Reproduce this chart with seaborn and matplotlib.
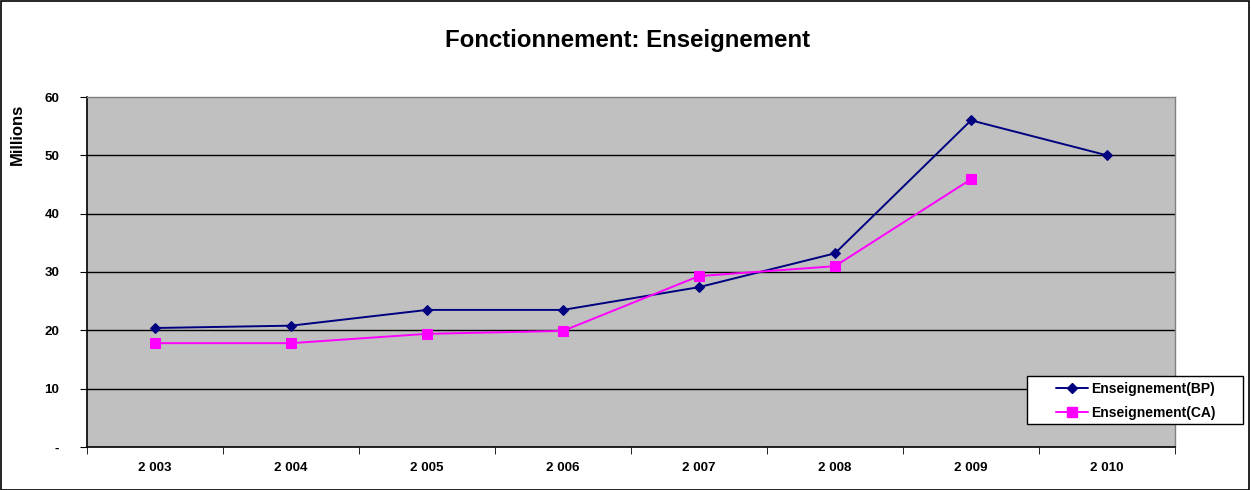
import pandas as pd
import numpy as np
import matplotlib
matplotlib.use("Agg")
import matplotlib.pyplot as plt
import seaborn as sns
from matplotlib.lines import Line2D
from matplotlib.patches import Rectangle

# values (millions)
years = ["2 003", "2 004", "2 005", "2 006", "2 007", "2 008", "2 009", "2 010"]
bp = [20.4, 20.8, 23.5, 23.5, 27.4, 33.2, 56.0, 50.0]
ca = [17.8, 17.8, 19.4, 19.9, 29.3, 31.0, 45.9, np.nan]
y_ticks = [0, 10, 20, 30, 40, 50, 60]
y_labels = ["-", "10", "20", "30", "40", "50", "60"]

df = pd.DataFrame({"pos": range(len(years)), "BP": bp, "CA": ca})

sns.set_style("white")
plt.rcParams["font.family"] = ["Liberation Sans", "DejaVu Sans"]
plt.rcParams["font.weight"] = "bold"
plt.rcParams["text.color"] = "black"
plt.rcParams["xtick.color"] = "black"
plt.rcParams["ytick.color"] = "black"
plt.rcParams["axes.labelcolor"] = "black"

W, H = 1251, 490
fig = plt.figure(figsize=(12.51, 4.9), dpi=100)
ax = fig.add_axes([87 / W, 43 / H, 1088 / W, 350 / H])
ax.set_facecolor("#c0c0c0")

# outer chart border
fig.patches.append(Rectangle((0.0005, 0.001), 0.998, 0.997, transform=fig.transFigure,
                             fill=False, edgecolor="black", linewidth=1.2))

for v in y_ticks[1:-1]:
    ax.axhline(v, color="black", linewidth=1, zorder=1)

sns.lineplot(data=df, x="pos", y="BP", ax=ax, color="#000080", marker="D",
             markersize=5.5, markeredgecolor="#000080", linewidth=1.4, zorder=3)
sns.lineplot(data=df, x="pos", y="CA", ax=ax, color="#ff00ff", marker="s",
             markersize=6.5, markeredgecolor="#ff00ff", linewidth=1.4, zorder=3)

ax.set_xlim(-0.5, len(years) - 0.5)
ax.set_ylim(0, 60)
ax.set_xticks(range(len(years)))
ax.set_xticklabels(years, fontsize=9.6, fontweight="bold")
ax.set_xticks(np.arange(-0.5, len(years)), minor=True)
ax.tick_params(axis="x", which="major", length=0, pad=11)
ax.tick_params(axis="x", which="minor", length=5, direction="out", color="black", bottom=True)
ax.set_yticks(y_ticks)
ax.set_yticklabels(y_labels, fontsize=9.6, fontweight="bold")
ax.tick_params(axis="y", length=5, direction="out", color="black", left=True, pad=15)

ax.set_xlabel("")
ax.set_ylabel("Millions", fontsize=12, fontweight="bold")
ax.yaxis.set_label_coords(-0.057, 0.894)

for side in ["left", "bottom"]:
    ax.spines[side].set_color("black")
    ax.spines[side].set_linewidth(1.2)
for side in ["top", "right"]:
    ax.spines[side].set_color("#808080")
    ax.spines[side].set_linewidth(1)

fig.text(0.502, 0.918, "Fonctionnement: Enseignement", ha="center", va="center",
         fontsize=17.3, fontweight="bold")

# legend box (wide side padding like the original)
fig.patches.append(Rectangle((1027 / W, 1 - 424 / H), 216 / W, 48 / H,
                             transform=fig.transFigure, facecolor="white",
                             edgecolor="black", linewidth=1, zorder=5))
handles = [
    Line2D([], [], color="#000080", marker="D", markersize=5.5, linewidth=1.4),
    Line2D([], [], color="#ff00ff", marker="s", markersize=6.5, linewidth=1.4),
]
leg = fig.legend(handles, ["Enseignement(BP)", "Enseignement(CA)"],
                 loc="upper left", bbox_to_anchor=(1056 / W, 1 - 382 / H),
                 frameon=False, borderpad=0, labelspacing=0.72, borderaxespad=0,
                 handlelength=2.3, handletextpad=0.25,
                 prop={"size": 10, "weight": "bold"})
leg.set_zorder(6)

fig.savefig("out.png", dpi=100, facecolor="white")
